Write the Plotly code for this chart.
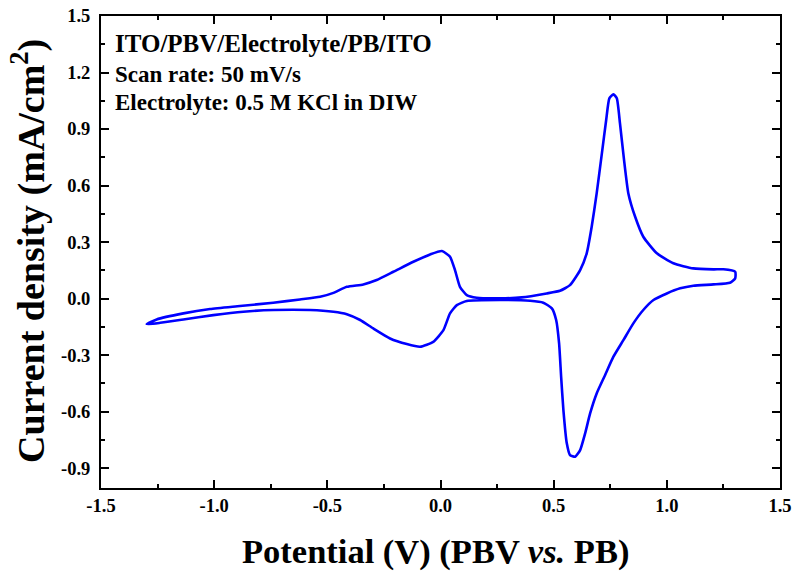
import plotly.graph_objects as go

# CV loop (Potential V, Current density mA/cm^2)
potential = [
    -1.298, -1.254, -1.136, -1.018, -0.886, -0.739, -0.621, -0.532, -0.473, -0.414,
    -0.341, -0.282, -0.208, -0.120, -0.046, 0.006, 0.042, 0.064, 0.086, 0.116,
    0.160, 0.263, 0.359, 0.469, 0.528, 0.572, 0.617, 0.646, 0.668, 0.690,
    0.713, 0.732, 0.746, 0.764, 0.779, 0.793, 0.811, 0.830, 0.860, 0.896,
    0.956, 1.029, 1.117, 1.206, 1.250, 1.302, 1.302, 1.279, 1.206, 1.117,
    1.059, 1.000, 0.941, 0.896, 0.852, 0.808, 0.764, 0.727, 0.690, 0.661,
    0.639, 0.617, 0.595, 0.572, 0.558, 0.543, 0.533, 0.524, 0.511, 0.492,
    0.454, 0.396, 0.263, 0.116, 0.072, 0.042, 0.013, -0.032, -0.090, -0.149,
    -0.223, -0.297, -0.355, -0.414, -0.473, -0.576, -0.739, -0.871, -1.004, -1.136,
    -1.239, -1.298,
]
current = [
    -0.136, -0.111, -0.079, -0.056, -0.040, -0.022, -0.005, 0.009, 0.030, 0.062,
    0.075, 0.098, 0.142, 0.195, 0.234, 0.252, 0.222, 0.151, 0.062, 0.018,
    0.004, 0.001, 0.006, 0.027, 0.041, 0.071, 0.151, 0.240, 0.381, 0.558,
    0.771, 0.948, 1.063, 1.084, 1.063, 0.930, 0.735, 0.558, 0.434, 0.328,
    0.240, 0.187, 0.160, 0.155, 0.155, 0.142, 0.107, 0.084, 0.075, 0.068,
    0.054, 0.027, -0.008, -0.061, -0.132, -0.221, -0.309, -0.407, -0.504, -0.610,
    -0.716, -0.805, -0.840, -0.831, -0.769, -0.592, -0.416, -0.238, -0.114, -0.052,
    -0.022, -0.012, -0.008, -0.013, -0.035, -0.079, -0.168, -0.230, -0.256, -0.242,
    -0.212, -0.159, -0.114, -0.083, -0.070, -0.061, -0.061, -0.070, -0.088, -0.111,
    -0.129, -0.136,
]

x_ticks = [-1.5, -1.0, -0.5, 0.0, 0.5, 1.0, 1.5]
x_ticktext = ["-1.5", "-1.0", "-0.5", "0.0", "0.5", "1.0", "1.5"]
y_ticks = [-0.9, -0.6, -0.3, 0.0, 0.3, 0.6, 0.9, 1.2, 1.5]
y_ticktext = ["-0.9", "-0.6", "-0.3", "0.0", "0.3", "0.6", "0.9", "1.2", "1.5"]

x_title = "Potential (V) (PBV <i>vs.</i> PB)"
y_title = "Current density (mA/cm<sup>2</sup>)"
info_lines = [
    "ITO/PBV/Electrolyte/PB/ITO",
    "Scan rate: 50 mV/s",
    "Electrolyte: 0.5 M KCl in DIW",
]

FONT = "Liberation Serif"

fig = go.Figure()
fig.add_trace(go.Scatter(
    x=potential, y=current, mode="lines",
    line=dict(color="#0000FF", width=2.6, shape="spline", smoothing=0.5),
    showlegend=False, hoverinfo="skip",
))

axis_common = dict(
    showline=True, linecolor="black", linewidth=2, mirror="ticks",
    ticks="inside", ticklen=8, tickwidth=2, tickcolor="black",
    showgrid=False, zeroline=False, automargin=False,
    tickfont=dict(family=FONT, size=18.5, color="black", weight="bold"),
)

fig.update_xaxes(
    range=[-1.5, 1.5], tickvals=x_ticks, ticktext=x_ticktext,
    minor=dict(ticks="inside", ticklen=4, tickwidth=2, dtick=0.25, tick0=0, tickcolor="black"),
    **axis_common,
)
fig.update_yaxes(
    range=[-1.006, 1.5], tickvals=y_ticks, ticktext=y_ticktext,
    minor=dict(ticks="inside", ticklen=4, tickwidth=2, dtick=0.15, tick0=0, tickcolor="black"),
    ticklabelstandoff=5,
    **axis_common,
)

# axis titles
fig.add_annotation(
    text=x_title, xref="paper", yref="paper", x=0.4926, y=-0.134,
    xanchor="center", yanchor="middle", showarrow=False,
    font=dict(family=FONT, size=34.5, color="black", weight="bold"),
)
fig.add_annotation(
    text=y_title, xref="paper", yref="paper", x=-0.107, y=0.503,
    xanchor="center", yanchor="middle", showarrow=False, textangle=-90,
    font=dict(family=FONT, size=38, color="black", weight="bold"),
)

sizes = [25, 23, 23]
mids = [0.942, 0.876, 0.817]
for line, sz, ym in zip(info_lines, sizes, mids):
    fig.add_annotation(
        text=line, xref="paper", yref="paper", x=0.017, y=ym,
        xanchor="left", yanchor="middle", showarrow=False,
        font=dict(family=FONT, size=sz, color="black", weight="bold"),
    )

fig.update_layout(
    width=795, height=572,
    margin=dict(l=101, r=15, t=16, b=84),
    plot_bgcolor="white", paper_bgcolor="white",
)

fig.write_html(
    "out.html",
    config={"displayModeBar": False},
    post_script="document.body.style.margin='0';",
)
